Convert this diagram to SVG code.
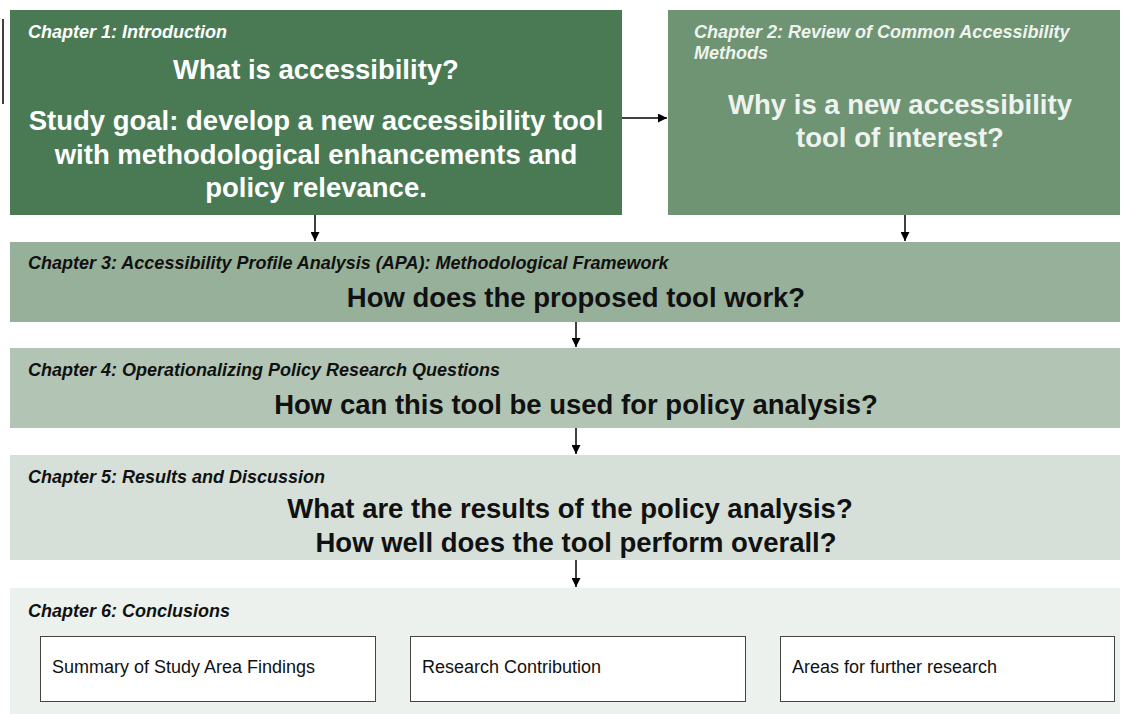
<svg xmlns="http://www.w3.org/2000/svg" width="1130" height="714" viewBox="0 0 1130 714">
<defs>
<marker id="ah" viewBox="0 0 10 10" refX="10" refY="5" markerWidth="10" markerHeight="9" markerUnits="userSpaceOnUse" orient="auto"><path d="M0,0 L10,5 L0,10 z" fill="#000"/></marker>
<style>
text{font-family:"Liberation Sans",Arial,sans-serif}
.ch{font-size:18px;font-weight:bold;font-style:italic}
.q{font-size:27.5px;font-weight:bold;text-anchor:middle}
.w{fill:#ffffff}
.lt{fill:#eef3ef}
.dk{fill:#111111}
.sub{font-size:18px;fill:#111}
.sb{fill:#ffffff;stroke:#444;stroke-width:1}
.con{stroke:#000;stroke-width:1.5;fill:none;marker-end:url(#ah)}
</style>
</defs>
<rect width="1130" height="714" fill="#ffffff"/>
<line x1="3" y1="19" x2="3" y2="104" stroke="#000" stroke-width="1.5"/>
<g id="ch1">
<rect x="10" y="10" width="612" height="205" fill="#4a7a54"/>
<text class="ch w" x="28" y="38">Chapter 1: Introduction</text>
<text class="q w" x="316" y="79">What is accessibility?</text>
<text class="q w" x="316" y="130">Study goal: develop a new accessibility tool</text>
<text class="q w" x="316" y="164">with methodological enhancements and</text>
<text class="q w" x="316" y="197">policy relevance.</text>
</g>
<g id="ch2">
<rect x="668" y="10" width="452" height="205" fill="#6e9474"/>
<text class="ch lt" x="694" y="38">Chapter 2: Review of Common Accessibility</text>
<text class="ch lt" x="694" y="59">Methods</text>
<text class="q lt" x="900" y="114">Why is a new accessibility</text>
<text class="q lt" x="900" y="147">tool of interest?</text>
</g>
<g id="ch3">
<rect x="10" y="242" width="1110" height="80" fill="#97b09a"/>
<text class="ch dk" x="28" y="269">Chapter 3: Accessibility Profile Analysis (APA): Methodological Framework</text>
<text class="q dk" x="576" y="307">How does the proposed tool work?</text>
</g>
<g id="ch4">
<rect x="10" y="348" width="1110" height="80" fill="#b2c5b5"/>
<text class="ch dk" x="28" y="376">Chapter 4: Operationalizing Policy Research Questions</text>
<text class="q dk" x="576" y="414">How can this tool be used for policy analysis?</text>
</g>
<g id="ch5">
<rect x="10" y="455" width="1110" height="105" fill="#d6e0d8"/>
<text class="ch dk" x="28" y="483">Chapter 5: Results and Discussion</text>
<text class="q dk" x="570" y="518">What are the results of the policy analysis?</text>
<text class="q dk" x="576" y="552">How well does the tool perform overall?</text>
</g>
<g id="ch6">
<rect x="10" y="588" width="1110" height="126" fill="#edf1ee"/>
<text class="ch dk" x="28" y="617">Chapter 6: Conclusions</text>
</g>
<g id="s1"><rect class="sb" x="40.5" y="636.5" width="335" height="65"/><text class="sub" x="52" y="673">Summary of Study Area Findings</text></g>
<g id="s2"><rect class="sb" x="410.5" y="636.5" width="335" height="65"/><text class="sub" x="422" y="673">Research Contribution</text></g>
<g id="s3"><rect class="sb" x="780.5" y="636.5" width="334" height="65"/><text class="sub" x="792" y="673">Areas for further research</text></g>
<g id="connectors">
<line class="con" x1="622" y1="118" x2="667" y2="118"/>
<line class="con" x1="315" y1="215" x2="315" y2="241"/>
<line class="con" x1="905" y1="215" x2="905" y2="241"/>
<line class="con" x1="576" y1="322" x2="576" y2="347"/>
<line class="con" x1="576" y1="428" x2="576" y2="454"/>
<line class="con" x1="576" y1="560" x2="576" y2="587"/>
</g>
</svg>
